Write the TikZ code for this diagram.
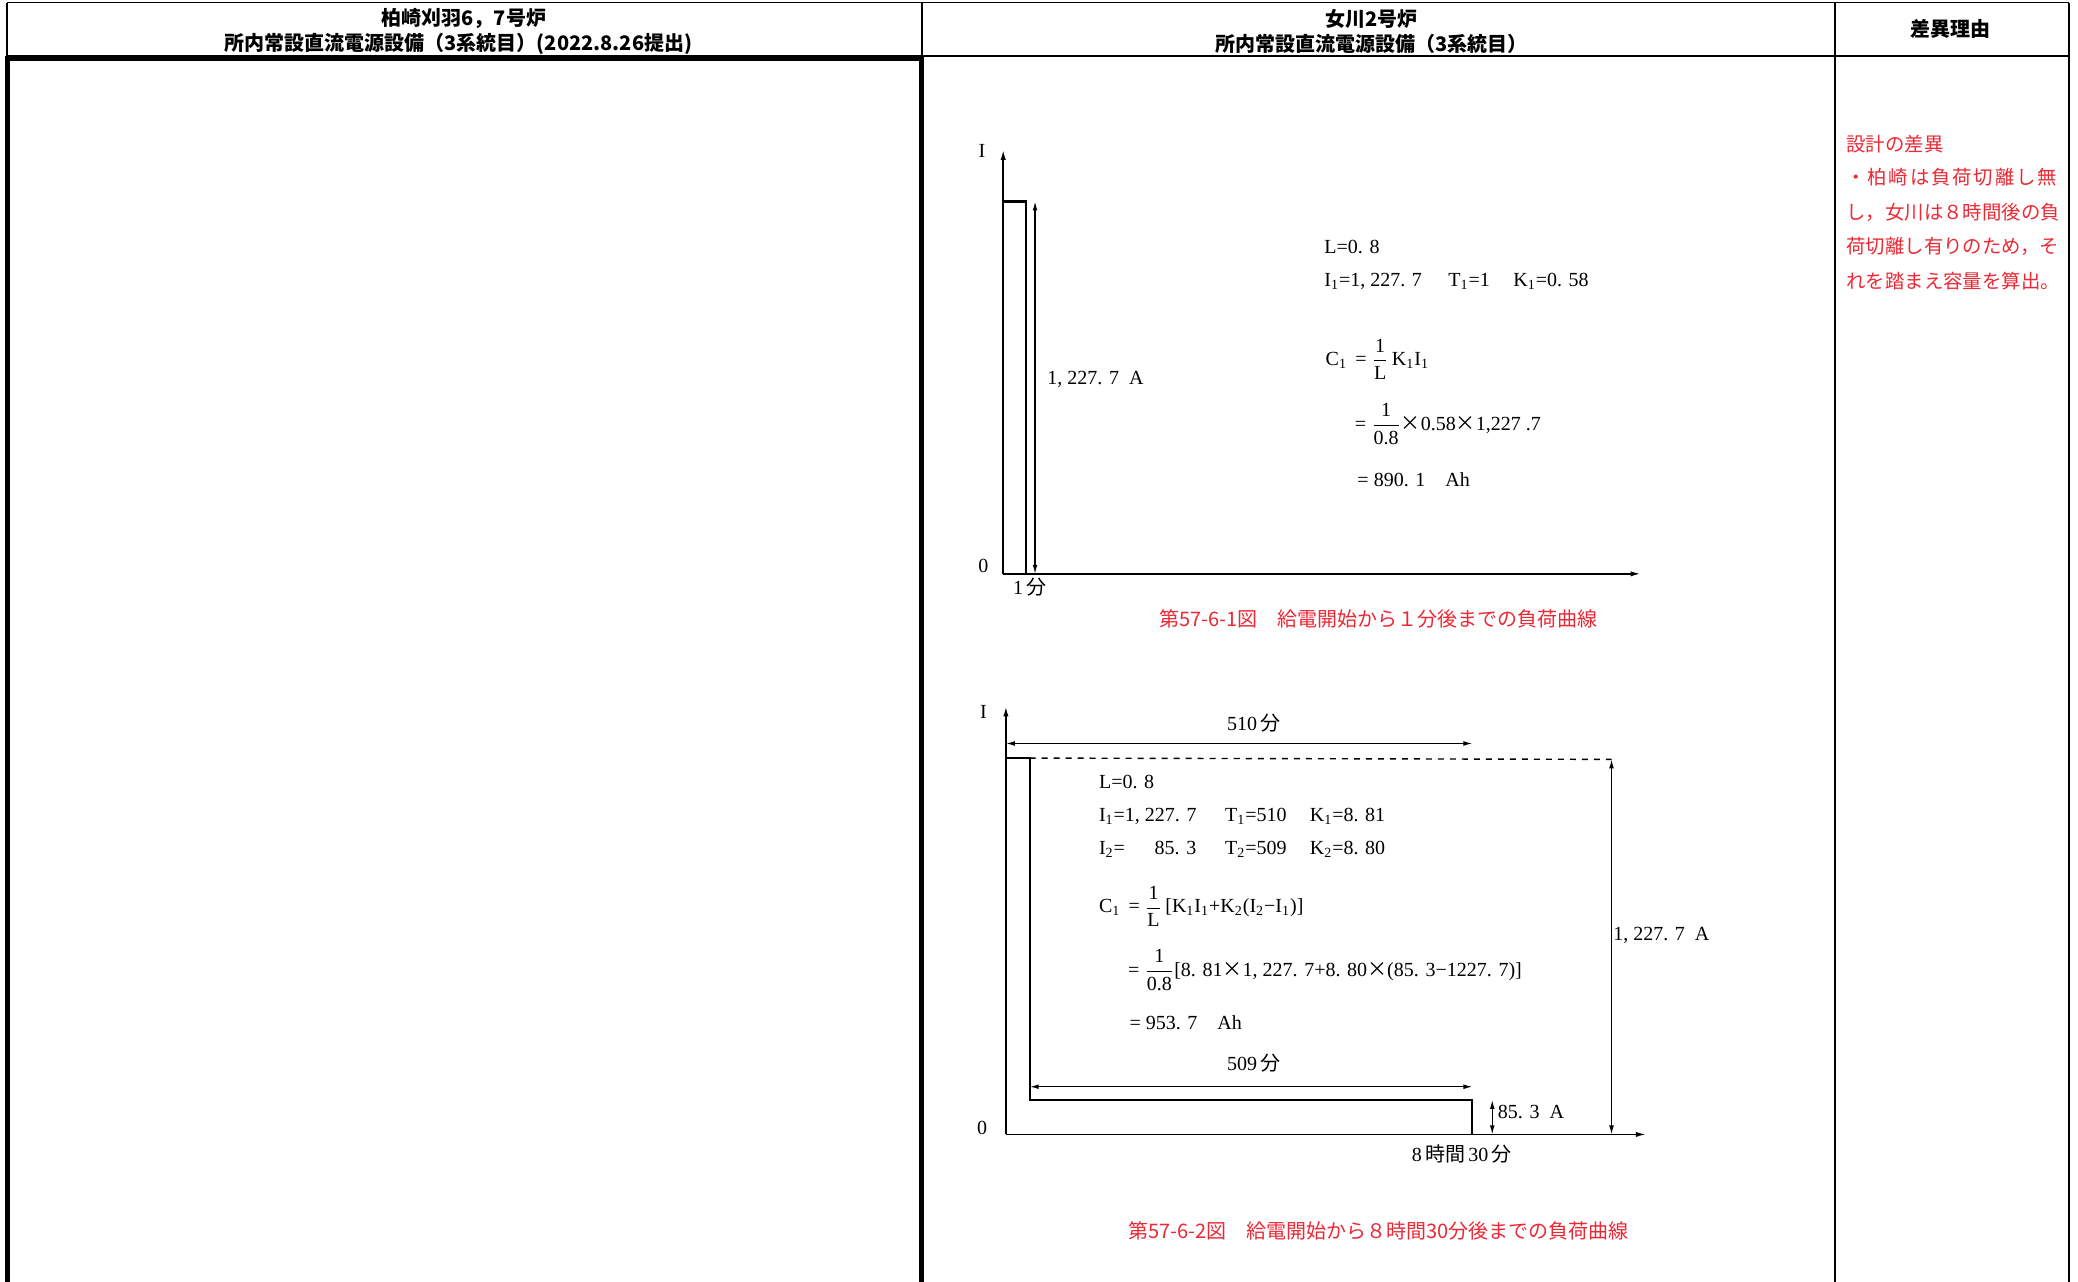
\documentclass[tikz,border=0pt]{standalone}
\usepackage{fontspec}
\usepackage{amsmath}
\setmainfont{Liberation Serif}
\newfontfamily\jp{Noto Sans CJK JP}
\usetikzlibrary{arrows.meta, positioning}
\definecolor{notered}{RGB}{236,40,52}
\newcommand{\sbs}[1]{\textsubscript{#1}}
\newcommand{\tms}{{\jp ×}}

\begin{document}
\begin{tikzpicture}[x=0.6626pt, y=-0.6626pt,
	frame/.style={line width=0.65pt},
	heavy/.style={line width=2.5pt},
	axis/.style={line width=0.8pt, -{Latex[length=5pt,width=2.6pt]}},
	load/.style={line width=1.1pt},
	dim/.style={line width=0.6pt, {Latex[length=4.5pt,width=2.4pt]}-{Latex[length=4.5pt,width=2.4pt]}},
	head/.style={font=\jp\bfseries\fontsize{10}{12}\selectfont, inner sep=0pt},
	lbl/.style={font=\fontsize{10}{12}\selectfont, inner sep=0pt},
	frm/.style={lbl, anchor=west},
	note/.style={font=\jp\fontsize{9.7}{12}\selectfont, text=notered, inner sep=0pt, anchor=west},
	figcap/.style={font=\jp\fontsize{10}{12}\selectfont, text=notered, inner sep=0pt}]
	\useasboundingbox (0,0) rectangle (1568,967);

	% table
	\draw[frame] (5.3,1.9) -- (1561.2,1.9);
	\draw[frame] (5.3,1.9) -- (5.3,44);
	\draw[frame] (5.3,42.3) -- (1561.2,42.3);
	\draw[frame] (695.7,1.9) -- (695.7,967);
	\draw[frame] (1384.6,1.9) -- (1384.6,967);
	\draw[frame] (1561.2,1.9) -- (1561.2,967);
	\draw[heavy] (5.7,967) -- (5.7,44.5) -- (695,44.5) -- (695,967);

	\node[head] (kk1) at (350,14) {柏崎刈羽6，7号炉};
	\node[head] (kk2) at (346,33) {所内常設直流電源設備（3系統目）(2022.8.26提出)};
	\node[head] (og1) at (1035,14) {女川2号炉};
	\node[head] (og2) at (1035,33) {所内常設直流電源設備（3系統目）};
	\node[head] (diff) at (1472,22) {差異理由};

	\node[note] (n1) at (1393,109) {設計の差異};
	\node[note] (n2) at (1393,134) {\addfontfeature{LetterSpace=9.5}・柏崎は負荷切離し無};
	\node[note] (n3) at (1393,160) {し，女川は８時間後の負};
	\node[note] (n4) at (1393,186) {荷切離し有りのため，そ};
	\node[note] (n5) at (1393,212) {れを踏まえ容量を算出。};

	% figure 57-6-1
	\coordinate (o1) at (757,433);
	\coordinate (y1) at (757,113);
	\coordinate (x1) at (1238,433);
	\coordinate (p1) at (757,152);
	\coordinate (p2) at (774,152);
	\coordinate (p3) at (774,433);
	\coordinate (d1a) at (781,152);
	\coordinate (d1b) at (781,433);
	\draw[axis] (o1) -- (y1);
	\draw[axis] (o1) -- (x1);
	\draw[load] (p1) -- (p2) -- (p3);
	\draw[dim] (d1a) -- (d1b);

	\node[lbl] (iy1) at (741,114) {I};
	\node[lbl] (zero1) at (742,427) {0};
	\node[lbl] (min1) at (777,443) {1\,{\jp 分}};
	\node[frm] (amp1) at (790,286) {1, 227. 7\ \ A};
	\node[frm] (f1a) at (999,186) {L=0. 8};
	\node[frm] (f1b) at (999,212) {\makebox[62pt][l]{I\sbs{1}=1, 227. 7}\makebox[32.5pt][l]{T\sbs{1}=1}K\sbs{1}=0. 58};
	\node[frm] (f1c) at (1000,271) {C\sbs{1} \,= $\dfrac{\text{1}}{\text{L}}$\,K\sbs{1}I\sbs{1}};
	\node[frm] (f1d) at (1022,320) {= $\dfrac{\text{1}}{\text{0.8}}$\tms0.58\tms1,227 .7};
	\node[frm] (f1e) at (1024,362) {= 890. 1\quad Ah};
	\node[figcap] (cap1) at (1040,467) {第57-6-1図　給電開始から１分後までの負荷曲線};

	% figure 57-6-2
	\coordinate (o2) at (759,856);
	\coordinate (y2) at (759,533);
	\coordinate (x2) at (1242,856);
	\coordinate (q1) at (759,572);
	\coordinate (q2) at (777,572);
	\coordinate (q3) at (777,830);
	\coordinate (q4) at (1111,830);
	\coordinate (q5) at (1111,856);
	\coordinate (r1) at (1216,573);
	\coordinate (r2) at (1216,856);
	\coordinate (s1) at (759,561);
	\coordinate (s2) at (1111,561);
	\coordinate (t1) at (777,820);
	\coordinate (t2) at (1111,820);
	\coordinate (u1) at (1126,830);
	\coordinate (u2) at (1126,856);
	\draw[axis] (o2) -- (y2);
	\draw[axis] (o2) -- (x2);
	\draw[load] (q1) -- (q2) -- (q3) -- (q4) -- (q5);
	\draw[line width=0.7pt, dashed] (q2) -- (r1);
	\draw[dim] (r1) -- (r2);
	\draw[dim] (s1) -- (s2);
	\draw[dim] (t1) -- (t2);
	\draw[dim] (u1) -- (u2);

	\node[lbl] (iy2) at (742,537) {I};
	\node[lbl] (zero2) at (741,851) {0};
	\node[lbl] (m510) at (946,546) {510\,{\jp 分}};
	\node[lbl] (m509) at (946,802) {509\,{\jp 分}};
	\node[lbl] (h830) at (1103,871) {8\,{\jp 時間}\,30\,{\jp 分}};
	\node[frm] (amp2) at (1217,706) {1, 227. 7\ \ A};
	\node[frm] (amp3) at (1130,839) {85. 3\ \ A};
	\node[frm] (f2a) at (829,590) {L=0. 8};
	\node[frm] (f2b) at (829,616) {\makebox[63pt][l]{I\sbs{1}=1, 227. 7}\makebox[42.4pt][l]{T\sbs{1}=510}K\sbs{1}=8. 81};
	\node[frm] (f2c) at (829,641) {\makebox[63pt][l]{\makebox[27.8pt][l]{I\sbs{2}=}85. 3}\makebox[42.4pt][l]{T\sbs{2}=509}K\sbs{2}=8. 80};
	\node[frm] (f2d) at (829,684) {C\sbs{1} \,= $\dfrac{\text{1}}{\text{L}}$\,[K\sbs{1}I\sbs{1}+K\sbs{2}(I\sbs{2}−I\sbs{1})]};
	\node[frm] (f2e) at (851,732) {= $\dfrac{\text{1}}{\text{0.8}}$[8. 81\tms1, 227. 7+8. 80\tms(85. 3−1227. 7)]};
	\node[frm] (f2f) at (852,772) {= 953. 7\quad Ah};
	\node[figcap] (cap2) at (1040,929) {第57-6-2図　給電開始から８時間30分後までの負荷曲線};
\end{tikzpicture}
\end{document}
